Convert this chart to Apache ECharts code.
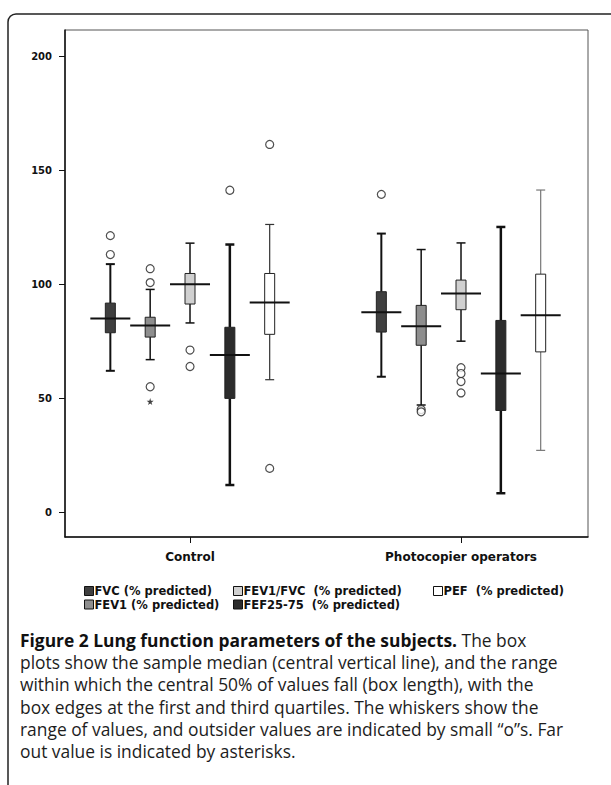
<!DOCTYPE html>
<html>
<head>
<meta charset="utf-8">
<script src="https://cdn.jsdelivr.net/npm/echarts@6/dist/echarts.min.js"></script>
<style>
html,body{margin:0;padding:0;background:#fff;}
#chart{width:611px;height:785px;}
</style>
</head>
<body>
<div id="chart"></div>
<script>
'use strict';

// groups on the x axis and the five lung function parameters
var groups = ['Control', 'Photocopier operators'];
var params = ['FVC (% predicted)', 'FEV1 (% predicted)', 'FEV1/FVC  (% predicted)', 'FEF25-75  (% predicted)', 'PEF  (% predicted)'];
var yTicks = [0, 50, 100, 150, 200];
var xTicks = [1, 2];

// [min, Q1, median, Q3, max] for Control, Photocopier operators
var fvcBox   = [[62.0, 78.7, 84.9, 91.7, 108.8], [59.4, 79.0, 87.7, 96.7, 122.2]];
var fev1Box  = [[66.9, 76.8, 81.9, 85.5, 97.7],  [47.0, 73.2, 81.6, 90.7, 115.2]];
var ratioBox = [[83.0, 91.3, 100.0, 104.7, 118.0], [75.0, 88.8, 95.9, 101.8, 118.1]];
var fefBox   = [[11.9, 49.9, 68.9, 81.1, 117.4], [8.3, 44.6, 60.8, 84.1, 125.1]];
var pefBox   = [[58.1, 78.0, 92.0, 104.7, 126.2], [27.1, 70.3, 86.4, 104.4, 141.3]];

// outsider values ("o") per group
var fvcOut   = [[113.0, 121.3], [139.4]];
var fev1Out  = [[106.8, 100.7, 55.0], [45.0, 44.0]];
var ratioOut = [[71.1, 63.9], [63.4, 60.8, 57.3, 52.3]];
var fefOut   = [[141.2], []];
var pefOut   = [[161.3, 19.2], []];
// far out value (asterisk)
var fev1Far  = [[48.5], []];

var boxes = [fvcBox, fev1Box, ratioBox, fefBox, pefBox];
var outs = [fvcOut, fev1Out, ratioOut, fefOut, pefOut];
var fills = ['#3f3f3f', '#8e8e8e', '#d0d0d0', '#2c2c2c', '#ffffff'];
var whiskerW = [2, 1.5, 1.5, 2.5, 1.2];
var offsets = [-0.294, -0.147, 0, 0.147, 0.294];

var STAR = 'path://M50,0 L61,35 L98,35 L68,57 L79,91 L50,70 L21,91 L32,57 L2,35 L39,35 Z';
var FONT = '"DejaVu Sans", Verdana, sans-serif';

function boxSeries(k){
    var data = boxes[k].map(function(b, g){
        return [g + 1 + offsets[k]].concat(b);
    });
    return {
        type: 'custom',
        name: params[k],
        data: data,
        encode: {x: 0, y: [1, 2, 3, 4, 5]},
        z: 3,
        renderItem: function(p, api){
            var x = api.value(0);
            var pt = [1, 2, 3, 4, 5].map(function(i){ return api.coord([x, api.value(i)]); });
            var cx = pt[0][0];
            var lw = whiskerW[k];
            // the operators' PEF whiskers are printed faint
            var stroke = k === 4 ? (p.dataIndex === 1 ? '#777' : '#333') : '#111';
            function ln(x1, y1, x2, y2, w, c){
                return {type: 'line', shape: {x1: x1, y1: y1, x2: x2, y2: y2}, style: {stroke: c || stroke, lineWidth: w}};
            }
            return {
                type: 'group',
                children: [
                    ln(cx, pt[0][1], cx, pt[1][1], lw),
                    ln(cx, pt[3][1], cx, pt[4][1], lw),
                    ln(cx - 4.5, pt[0][1], cx + 4.5, pt[0][1], lw),
                    ln(cx - 4.5, pt[4][1], cx + 4.5, pt[4][1], lw),
                    {type: 'rect', shape: {x: cx - 5, y: pt[3][1], width: 10, height: pt[1][1] - pt[3][1]},
                     style: {fill: fills[k], stroke: '#222', lineWidth: 1}},
                    ln(cx - 20, pt[2][1], cx + 20, pt[2][1], 2, '#111')
                ]
            };
        }
    };
}

function outSeries(k, list, symbol, size, filled){
    var pts = [];
    list.forEach(function(vals, g){
        vals.forEach(function(v){ pts.push([g + 1 + offsets[k], v]); });
    });
    return {
        type: 'scatter',
        name: params[k],
        data: pts,
        symbol: symbol,
        symbolSize: size,
        z: 4,
        itemStyle: filled ? {color: '#111'} : {color: '#fff', borderColor: '#222', borderWidth: 1.2}
    };
}

var series = [];
for (var k = 0; k < params.length; k++){
    series.push(boxSeries(k));
    series.push(outSeries(k, outs[k], 'circle', 8, false));
}
series.push(outSeries(1, fev1Far, STAR, 7, true));

// legend laid out as in the figure: two rows, three columns
var legendPos = [[84, 585], [84, 598.5], [233, 585], [233, 598.5], [433, 585]];
var legends = params.map(function(name, k){
    return {
        left: legendPos[k][0], top: legendPos[k][1],
        padding: 0,
        itemWidth: 9, itemHeight: 9, itemGap: 0,
        icon: 'rect', selectedMode: false,
        textStyle: {fontFamily: FONT, fontWeight: 'bold', fontSize: 11.5, color: '#111', padding: [0, 0, 0, -4]},
        data: [{name: name, itemStyle: {color: fills[k], borderColor: '#111', borderWidth: 1}}]
    };
});

var captionLines = [
    '{b|Figure 2 Lung function parameters of the subjects.} The box',
    'plots show the sample median (central vertical line), and the range',
    'within which the central 50% of values fall (box length), with the',
    'box edges at the first and third quartiles. The whiskers show the',
    'range of values, and outsider values are indicated by small \u201co\u201ds. Far',
    'out value is indicated by asterisks.'
];
var captionFont = '"Open Sans", "Noto Sans", sans-serif';
var graphics = [{
    type: 'rect', z: 0,
    shape: {x: 8, y: 14, width: 610, height: 800, r: 8},
    style: {fill: 'none', stroke: '#222', lineWidth: 1.5}
}];
captionLines.forEach(function(t, i){
    graphics.push({
        type: 'text', x: 20, y: 640 + i * 22.2,
        style: {
            text: t, fill: '#1d1d1d', verticalAlign: 'middle',
            font: '17.4px ' + captionFont,
            rich: {b: {fontFamily: captionFont, fontSize: 17.4, fontWeight: 'bold', fill: '#111'}}
        }
    });
});

var chart = echarts.init(document.getElementById('chart'), null, {renderer: 'svg'});
chart.setOption({
    animation: false,
    backgroundColor: '#fff',
    grid: {left: 65, right: 23, top: 30, height: 507, show: true, borderColor: '#555', borderWidth: 1},
    legend: legends,
    graphic: graphics,
    xAxis: {
        type: 'value', min: 0.5387, max: 2.4686,
        splitLine: {show: false},
        axisLine: {show: true, onZero: false, lineStyle: {color: '#111', width: 1.5}},
        axisTick: {show: true, customValues: xTicks, length: 6, lineStyle: {color: '#111'}},
        axisLabel: {
            customValues: xTicks, margin: 14,
            formatter: function(v){ return groups[Math.round(v) - 1]; },
            fontFamily: FONT, fontWeight: 'bold', fontSize: 12, color: '#111'
        }
    },
    yAxis: {
        type: 'value', min: -10.9, max: 211.5,
        splitLine: {show: false},
        axisLine: {show: true, onZero: false, lineStyle: {color: '#111', width: 1.5}},
        axisTick: {show: true, customValues: yTicks, length: 6, lineStyle: {color: '#111'}},
        axisLabel: {customValues: yTicks, margin: 13, fontFamily: FONT, fontWeight: 'bold', fontSize: 10, color: '#111'}
    },
    series: series
});
</script>
</body>
</html>
